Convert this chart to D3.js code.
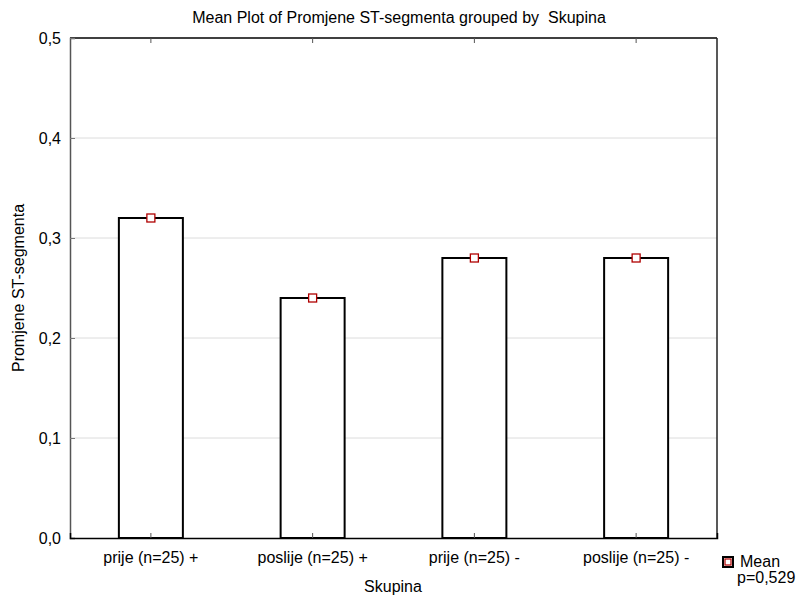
<!DOCTYPE html>
<html><head><meta charset="utf-8">
<script src="https://cdn.jsdelivr.net/npm/d3@7"></script>
<style>body{margin:0;background:#fff}svg{display:block}text{font-family:"Liberation Sans",Arial,sans-serif;fill:#000;white-space:pre}</style>
</head><body>
<svg id="c" width="799" height="599"></svg>
<script>
const categories = ["prije (n=25) +", "poslije (n=25) +", "prije (n=25) -", "poslije (n=25) -"];
const means = [0.32, 0.24, 0.28, 0.28];
const yTicks = [0, 0.1, 0.2, 0.3, 0.4, 0.5];
const yTickLabels = ["0,0", "0,1", "0,2", "0,3", "0,4", "0,5"];
const title = "Mean Plot of Promjene ST-segmenta grouped by  Skupina";
const xTitle = "Skupina";
const yTitle = "Promjene ST-segmenta";
const legendLabel = "Mean";
const pLabel = "p=0,529";

const FS = 16;
const svg = d3.select("#c");
const L = 70, R = 717, T = 38, B = 538;
const x = d3.scaleBand().domain(categories).range([L, R]).paddingInner(0).paddingOuter(0);
const y = d3.scaleLinear().domain([0, 0.5]).range([B, T]);
const barW = 64;

// gridlines
svg.append("g").selectAll("line").data(yTicks.filter(d => d > 0 && d < 0.5)).join("line")
  .attr("x1", L).attr("x2", R).attr("y1", d => y(d)).attr("y2", d => y(d))
  .attr("stroke", "#dcdcdc").attr("stroke-width", 1);

// bars
svg.append("g").selectAll("rect").data(means).join("rect")
  .attr("x", (d, i) => x(categories[i]) + x.bandwidth() / 2 - barW / 2)
  .attr("y", d => y(d))
  .attr("width", barW)
  .attr("height", d => B - y(d))
  .attr("fill", "#fff").attr("stroke", "#000").attr("stroke-width", 2);

// frame
svg.append("line").attr("x1", L).attr("x2", R).attr("y1", T).attr("y2", T).attr("stroke", "#000").attr("stroke-width", 1.5);
svg.append("line").attr("x1", R).attr("x2", R).attr("y1", T).attr("y2", B).attr("stroke", "#222").attr("stroke-width", 1.5);

// y axis
const yAxis = d3.axisLeft(y).tickValues(yTicks).tickFormat((d, i) => yTickLabels[i]).tickSize(-5).tickPadding(9);
const gy = svg.append("g").attr("transform", `translate(${L},0)`).call(yAxis);
gy.select(".domain").attr("stroke", "#555").attr("stroke-width", 1.5);
gy.selectAll(".tick line").attr("stroke", "#777");
gy.attr("font-size", FS).attr("font-family", "Liberation Sans, Arial, sans-serif");
gy.selectAll("text").attr("font-size", FS);

// x axis
const xAxis = d3.axisBottom(x).tickSize(-5).tickPadding(14);
const gx = svg.append("g").attr("transform", `translate(0,${B})`).call(xAxis);
gx.select(".domain").attr("stroke", "#000").attr("stroke-width", 1.5);
gx.selectAll(".tick line").attr("stroke", "#555");
gx.attr("font-size", FS).attr("font-family", "Liberation Sans, Arial, sans-serif");
gx.selectAll("text").attr("font-size", FS);

// top ticks
const gt = svg.append("g").attr("transform", `translate(0,${T})`).call(d3.axisTop(x).tickSize(-5).tickFormat(""));
gt.select(".domain").remove();
gt.selectAll(".tick line").attr("stroke", "#555");

// mean markers
svg.append("g").selectAll("rect").data(means).join("rect")
  .attr("x", (d, i) => x(categories[i]) + x.bandwidth() / 2 - 4)
  .attr("y", d => y(d) - 4)
  .attr("width", 8).attr("height", 8)
  .attr("fill", "#fff").attr("stroke", "#b00000").attr("stroke-width", 1.3);

// titles
svg.append("text").attr("x", 399).attr("y", 23).attr("text-anchor", "middle").attr("font-size", FS).text(title);
svg.append("text").attr("x", 393).attr("y", 592).attr("text-anchor", "middle").attr("font-size", FS).text(xTitle);
svg.append("text").attr("transform", `translate(24,${(T + B) / 2}) rotate(-90)`).attr("text-anchor", "middle").attr("font-size", FS).text(yTitle);

// legend
svg.append("rect").attr("x", 723).attr("y", 557).attr("width", 10).attr("height", 10).attr("fill", "#fff").attr("stroke", "#000").attr("stroke-width", 2);
svg.append("rect").attr("x", 725).attr("y", 559).attr("width", 6).attr("height", 6).attr("fill", "#fff").attr("stroke", "#b00000").attr("stroke-width", 1.2);
svg.append("text").attr("x", 740).attr("y", 567).attr("font-size", FS).text(legendLabel);
svg.append("text").attr("x", 737).attr("y", 583).attr("font-size", FS).text(pLabel);
</script>
</body></html>
